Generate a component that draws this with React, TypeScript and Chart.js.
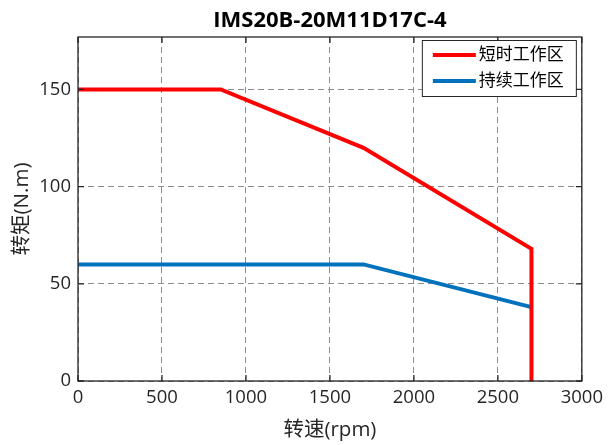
import React, { useEffect, useRef } from "react";
import { Chart, registerables } from "chart.js";
Chart.register(...registerables);

const chartTitle = "IMS20B-20M11D17C-4";
const xAxisTitle = "转速(rpm)";
const yAxisTitle = "转矩(N.m)";
const seriesNames = ["短时工作区", "持续工作区"];
const seriesColors = ["#ff0000", "#0072bd"];
const speedShort = [0, 850, 1700, 2700, 2700];
const torqueShort = [150, 150, 120, 68, 0];
const speedCont = [0, 1700, 2700];
const torqueCont = [60, 60, 38];
const xTicks = [0, 500, 1000, 1500, 2000, 2500, 3000];
const yTicks = [0, 50, 100, 150];
const xRange = [0, 3000];
const yRange = [0, 177];

const FONT = "'Open Sans', 'Noto Sans CJK SC', sans-serif";
const TEXT = "#262626";

const decor = {
  id: "decor",
  afterDraw(chart: any) {
    const { ctx, chartArea, scales } = chart;
    const { left, right, top, bottom } = chartArea;
    const x = scales.x;
    const y = scales.y;
    ctx.save();
    // box
    ctx.strokeStyle = TEXT;
    ctx.lineWidth = 1.3;
    ctx.strokeRect(left, top, right - left, bottom - top);
    // inside ticks
    const tl = 6;
    ctx.beginPath();
    xTicks.forEach((v) => {
      const px = x.getPixelForValue(v);
      ctx.moveTo(px, bottom);
      ctx.lineTo(px, bottom - tl);
      ctx.moveTo(px, top);
      ctx.lineTo(px, top + tl);
    });
    yTicks.forEach((v) => {
      const py = y.getPixelForValue(v);
      ctx.moveTo(left, py);
      ctx.lineTo(left + tl, py);
      ctx.moveTo(right, py);
      ctx.lineTo(right - tl, py);
    });
    ctx.stroke();

    // title
    ctx.fillStyle = "#000";
    ctx.font = `bold 22px ${FONT}`;
    ctx.textAlign = "center";
    ctx.textBaseline = "alphabetic";
    ctx.fillText(chartTitle, (left + right) / 2, 27);

    // axis titles
    ctx.fillStyle = TEXT;
    ctx.font = `20.5px ${FONT}`;
    ctx.textBaseline = "middle";
    ctx.fillText(xAxisTitle, (left + right) / 2, 430);
    ctx.save();
    ctx.translate(22, (top + bottom) / 2);
    ctx.rotate(-Math.PI / 2);
    ctx.fillText(yAxisTitle, 0, 0);
    ctx.restore();

    // legend
    const lw = 154;
    const lh = 56;
    const lx = right - 6 - lw;
    const ly = top + 3;
    ctx.fillStyle = "#fff";
    ctx.fillRect(lx, ly, lw, lh);
    ctx.strokeStyle = TEXT;
    ctx.lineWidth = 1;
    ctx.strokeRect(lx + 0.5, ly + 0.5, lw, lh);
    ctx.font = `17px ${FONT}`;
    ctx.textAlign = "left";
    chart.data.datasets.forEach((ds: any, i: number) => {
      const ry = ly + 15 + i * 26;
      ctx.strokeStyle = ds.borderColor;
      ctx.lineWidth = 4;
      ctx.beginPath();
      ctx.moveTo(lx + 11, ry);
      ctx.lineTo(lx + 54, ry);
      ctx.stroke();
      ctx.fillStyle = "#000";
      ctx.fillText(ds.label, lx + 57, ry);
    });
    ctx.restore();
  },
};

export default function App() {
  const ref = useRef<HTMLCanvasElement>(null);
  useEffect(() => {
    document.body.style.margin = "0";
    const chart = new Chart(ref.current!, {
      type: "scatter",
      data: {
        datasets: [
          {
            label: seriesNames[0],
            data: speedShort.map((v, i) => ({ x: v, y: torqueShort[i] })),
            borderColor: seriesColors[0],
            backgroundColor: seriesColors[0],
            borderWidth: 4,
            showLine: true,
            pointRadius: 0,
            borderJoinStyle: "miter",
          },
          {
            label: seriesNames[1],
            data: speedCont.map((v, i) => ({ x: v, y: torqueCont[i] })),
            borderColor: seriesColors[1],
            backgroundColor: seriesColors[1],
            borderWidth: 4,
            showLine: true,
            pointRadius: 0,
            borderJoinStyle: "miter",
          },
        ],
      },
      options: {
        responsive: false,
        animation: false,
        devicePixelRatio: 1,
        layout: { padding: { left: 0, right: 25, top: 37, bottom: 0 } },
        plugins: { legend: { display: false }, title: { display: false }, tooltip: { enabled: false } },
        scales: {
          x: {
            type: "linear",
            min: xRange[0],
            max: xRange[1],
            afterBuildTicks: (s: any) => {
              s.ticks = xTicks.map((v) => ({ value: v }));
            },
            afterFit: (s: any) => {
              s.height = 64;
            },
            grid: { color: "#8c8c8c", lineWidth: 1, drawTicks: false, tickLength: 0 },
            border: { display: false, dash: [6, 4] },
            ticks: {
              color: TEXT,
              font: { family: FONT, size: 18.5 },
              padding: 6,
              maxRotation: 0,
              autoSkip: false,
              callback: (v: any) => String(v),
            },
          },
          y: {
            type: "linear",
            min: yRange[0],
            max: yRange[1],
            afterBuildTicks: (s: any) => {
              s.ticks = yTicks.map((v) => ({ value: v }));
            },
            afterFit: (s: any) => {
              s.width = 78;
            },
            grid: { color: "#8c8c8c", lineWidth: 1, drawTicks: false, tickLength: 0 },
            border: { display: false, dash: [6, 4] },
            ticks: {
              color: TEXT,
              font: { family: FONT, size: 18.5 },
              padding: 7,
              autoSkip: false,
              callback: (v: any) => String(v),
            },
          },
        },
      },
      plugins: [decor],
    });
    return () => chart.destroy();
  }, []);
  return (
    <div style={{ width: 609, height: 445 }}>
      <canvas ref={ref} width={609} height={445} />
    </div>
  );
}
